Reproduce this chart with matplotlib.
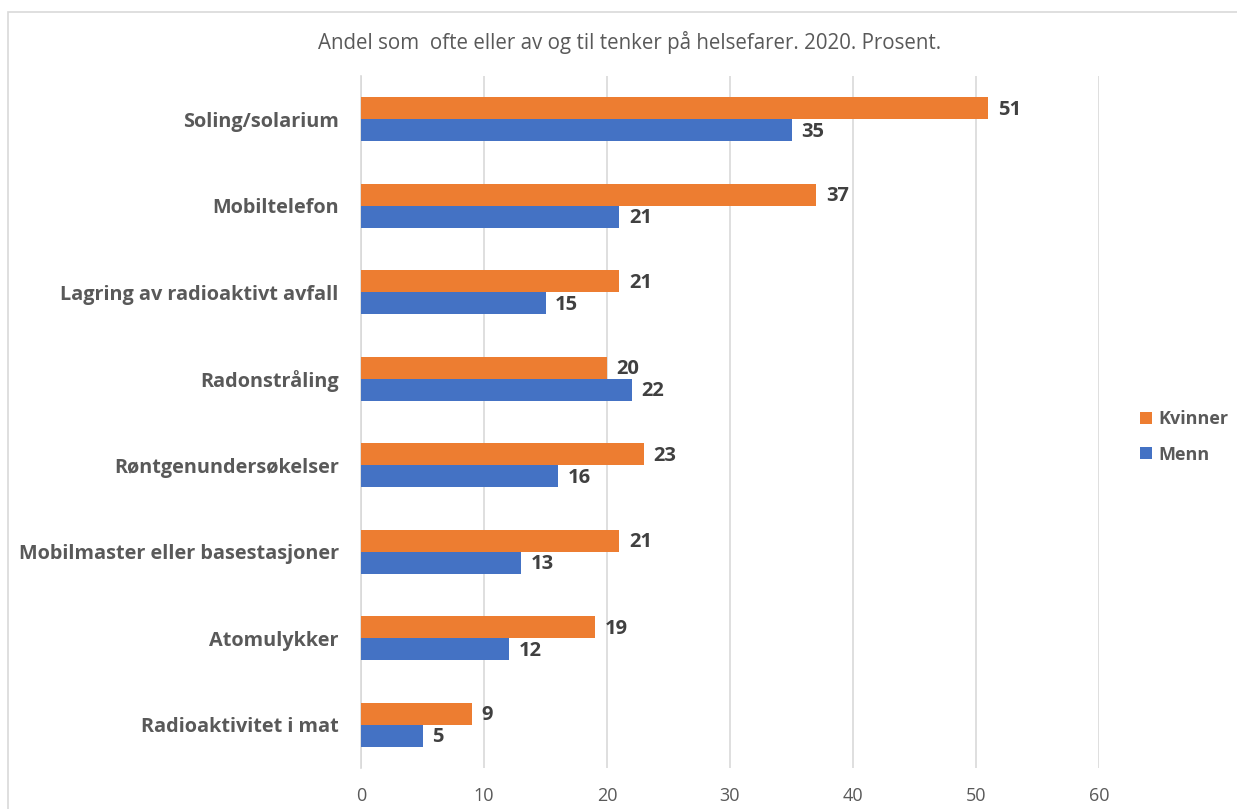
import numpy as np
import matplotlib.pyplot as plt
from matplotlib.patches import Rectangle

# andel som ofte eller av og til tenker paa helsefarer, 2020
kategorier = ['Radioaktivitet i mat', 'Atomulykker', 'Mobilmaster eller basestasjoner',
              'Røntgenundersøkelser', 'Radonstråling', 'Lagring av radioaktivt avfall',
              'Mobiltelefon', 'Soling/solarium']
kvinner = [9, 19, 21, 23, 20, 21, 37, 51]
menn = [5, 12, 13, 16, 22, 15, 21, 35]

orange = '#ED7D31'
blue = '#4472C4'
grey_text = '#595959'
plt.rcParams['font.family'] = ['Open Sans', 'DejaVu Sans']

fig = plt.figure(figsize=(12.37, 8.09), dpi=100)
ax = fig.add_axes([361/1237, 41/809, 738/1237, 692/809])

# light chart frame
fig.patches.append(Rectangle((8/1237, -0.1), 1.2, (809-12)/809 + 0.1, transform=fig.transFigure,
                             fill=False, edgecolor='#D9D9D9', linewidth=1.2))

y = np.arange(len(kategorier))
h = 0.254
ax.barh(y + h/2, kvinner, height=h, color=orange, label='Kvinner', zorder=3)
ax.barh(y - h/2, menn, height=h, color=blue, label='Menn', zorder=3)

for i in range(len(kategorier)):
    ax.annotate(str(kvinner[i]), (kvinner[i], y[i] + h/2), xytext=(7, -1), textcoords='offset points',
                va='center', ha='left', fontsize=14.5, fontweight='bold', color='#404040')
    ax.annotate(str(menn[i]), (menn[i], y[i] - h/2), xytext=(7, -1), textcoords='offset points',
                va='center', ha='left', fontsize=14.5, fontweight='bold', color='#404040')

ax.set_xlim(0, 60)
ax.set_ylim(-0.5, len(kategorier) - 0.5)
ax.set_xticks(np.arange(0, 61, 10))
ax.set_yticks(y)
ax.set_yticklabels(kategorier, fontsize=14.3, fontweight='bold', color=grey_text)
ax.tick_params(axis='x', length=0, labelsize=13, labelcolor=grey_text, pad=14)
ax.tick_params(axis='y', length=0, pad=16)
ax.grid(axis='x', color='#D9D9D9', linewidth=1.2, zorder=0)
for s in ['top', 'right', 'bottom']:
    ax.spines[s].set_visible(False)
ax.spines['left'].set_color('#D9D9D9')
ax.spines['left'].set_linewidth(1.2)

fig.text(630/1237, 1 - 43/809, 'Andel som  ofte eller av og til tenker på helsefarer. 2020. Prosent.',
         ha='center', va='center', fontsize=14.8, color=grey_text)

leg = fig.legend(loc='center left', bbox_to_anchor=(1124/1237, 1 - 437/809), frameon=False,
                 handlelength=0.65, handleheight=0.65, handletextpad=0.35, labelspacing=0.95,
                 prop={'size': 13, 'weight': 'bold'})
for t in leg.get_texts():
    t.set_color(grey_text)

plt.savefig('out.png', dpi=100)
